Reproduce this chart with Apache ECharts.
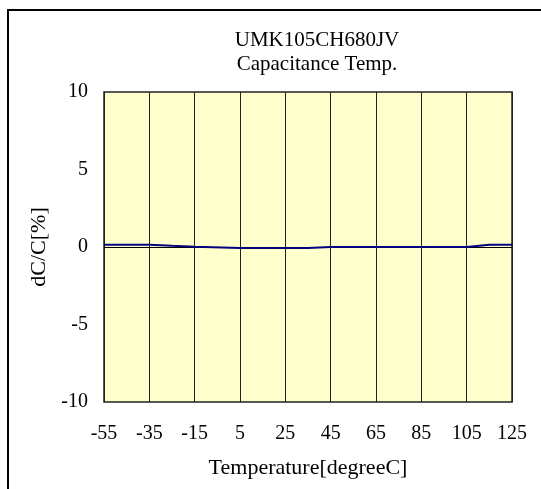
<!DOCTYPE html>
<html>
<head>
<meta charset="utf-8">
<script src="https://cdn.jsdelivr.net/npm/echarts@6/dist/echarts.min.js"></script>
<style>html,body{margin:0;padding:0;background:#fff}#c{width:541px;height:489px}</style>
</head>
<body>
<div id="c"></div>
<script>
// Data
const chartTitle = ['UMK105CH680JV', 'Capacitance Temp.'];
const xCategories = ['-55','-50','-45','-40','-35','-30','-25','-20','-15','-10','-5','0','5','10','15','20','25','30','35','40','45','50','55','60','65','70','75','80','85','90','95','100','105','110','115','120','125'];
const temperatures = ['-55','-35','-25','-15','5','25','35','45','65','85','105','115','125'];
const dCC = [0.15, 0.15, 0.08, 0.02, -0.07, -0.07, -0.07, 0.0, 0.0, 0.0, 0.0, 0.15, 0.15];
const yMin = -10, yMax = 10, yStep = 5;

const FONT = 'Liberation Serif, Times New Roman, serif';
const seriesData = temperatures.map((t, i) => [t, dCC[i]]);

const chart = echarts.init(document.getElementById('c'), null, {renderer: 'canvas'});
chart.setOption({
  animation: false,
  backgroundColor: '#ffffff',
  grid: {left: 104, right: 29, top: 92, bottom: 87, show: true, backgroundColor: '#FFFFCC', borderColor: '#222', borderWidth: 1.5},
  graphic: [
    {type: 'rect', shape: {x: 8, y: 10, width: 800, height: 800}, style: {fill: 'none', stroke: '#000', lineWidth: 2}, silent: true},
    {type: 'text', x: 317, y: 40, style: {text: chartTitle[0], textAlign: 'center', textVerticalAlign: 'middle', font: '21px ' + FONT, fill: '#000'}},
    {type: 'text', x: 317, y: 64, style: {text: chartTitle[1], textAlign: 'center', textVerticalAlign: 'middle', font: '21px ' + FONT, fill: '#000'}}
  ],
  xAxis: {
    type: 'category', data: xCategories, boundaryGap: false,
    name: 'Temperature[degreeC]', nameLocation: 'middle', nameGap: 55,
    nameTextStyle: {fontFamily: FONT, fontSize: 22, color: '#000'},
    axisLine: {show: false}, axisTick: {show: false},
    axisLabel: {interval: 3, margin: 22, fontFamily: FONT, fontSize: 20, color: '#000'},
    splitLine: {show: true, interval: 3, lineStyle: {color: '#222', width: 1}}
  },
  yAxis: {
    type: 'value', min: yMin, max: yMax, interval: yStep,
    name: 'dC/C[%]', nameLocation: 'middle', nameGap: 52,
    nameTextStyle: {fontFamily: FONT, fontSize: 22, color: '#000'},
    axisLine: {show: false}, axisTick: {show: false},
    axisLabel: {margin: 16, fontFamily: FONT, fontSize: 20, color: '#000'},
    splitLine: {show: false}
  },
  series: [{
    type: 'line', data: seriesData, showSymbol: false, symbol: 'none',
    lineStyle: {color: '#000080', width: 2}, z: 3,
    markLine: {silent: true, symbol: 'none', label: {show: false}, lineStyle: {color: '#000', width: 1, type: 'solid'}, data: [{yAxis: 0}], z: 2}
  }]
});
</script>
</body>
</html>
